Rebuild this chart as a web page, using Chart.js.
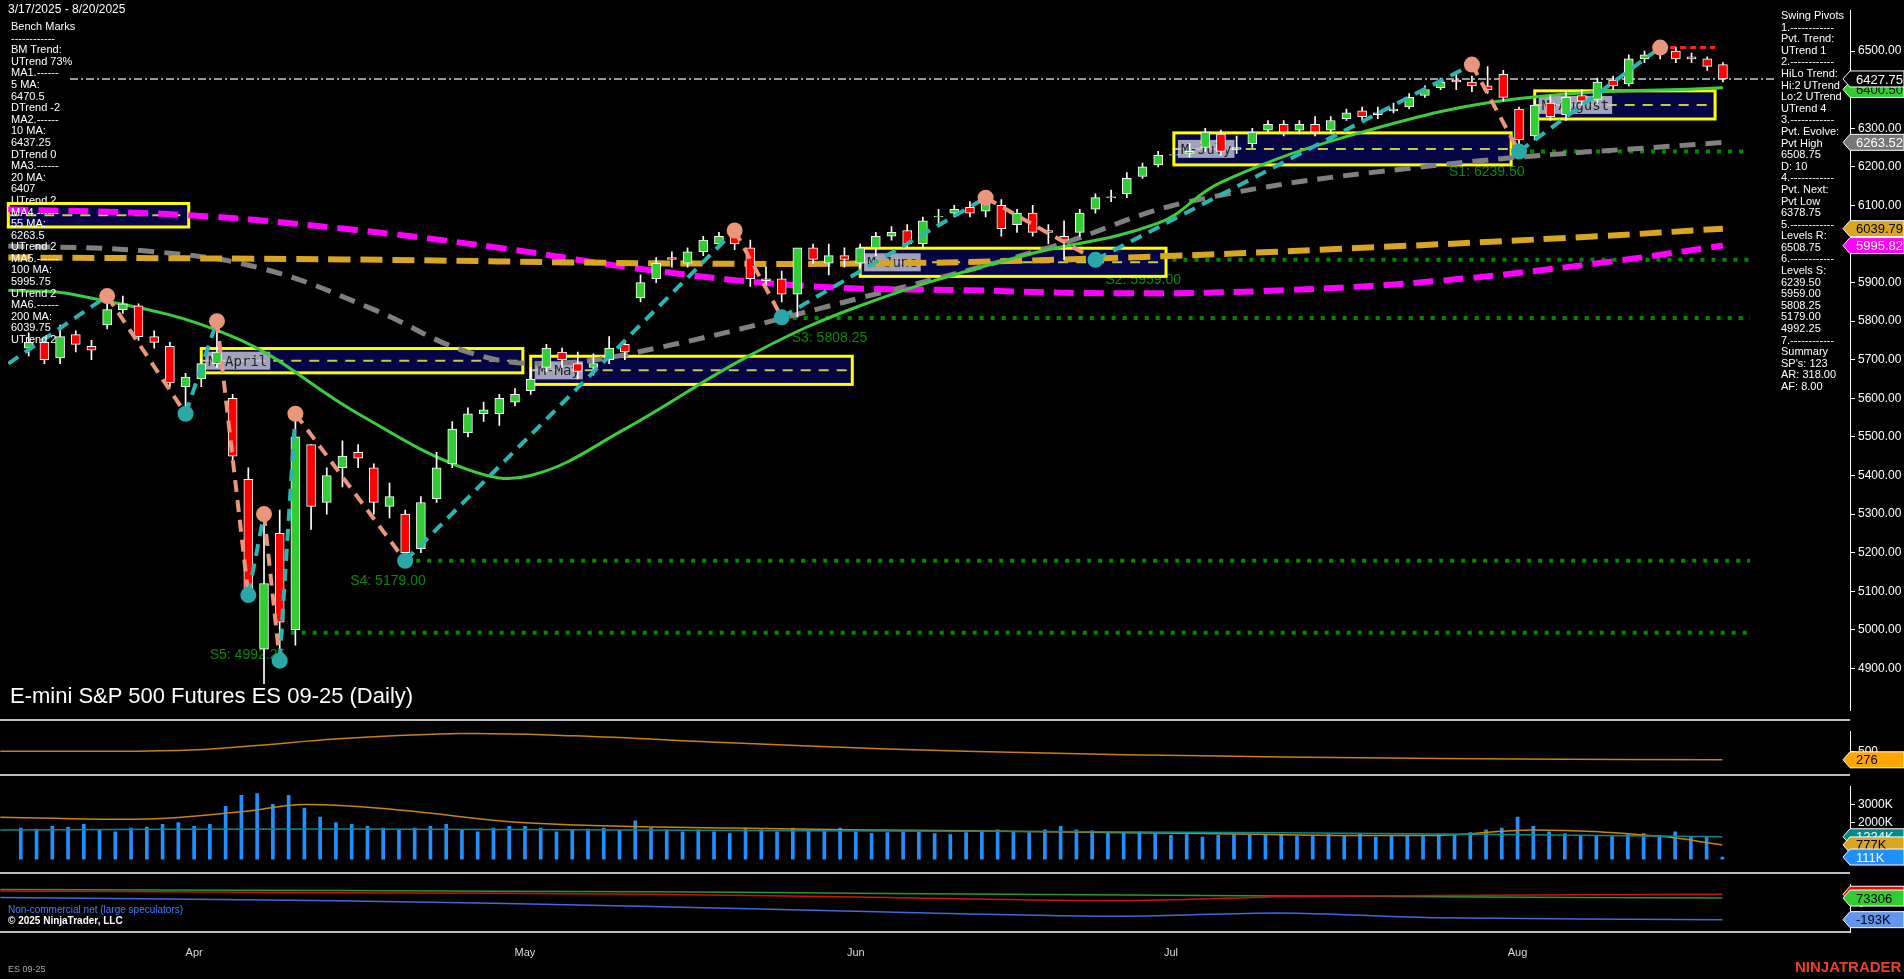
<!DOCTYPE html>
<html><head><meta charset="utf-8">
<script src="https://cdn.jsdelivr.net/npm/chart.js@4.4.1/dist/chart.umd.min.js"></script>
<style>
html,body{margin:0;padding:0;background:#000;width:1904px;height:979px;overflow:hidden;font-family:Arial,"Liberation Sans",sans-serif;}
canvas{position:absolute;left:0;}
.txt{position:absolute;color:#fff;font-size:11px;line-height:11.6px;white-space:pre;}
</style></head><body>
<canvas id="c1" style="top:0"></canvas>
<canvas id="c2" style="top:721px"></canvas>
<canvas id="c3" style="top:776px"></canvas>
<canvas id="c4" style="top:874px"></canvas>
<div class="txt" style="left:8px;top:4px;font-size:12px">3/17/2025 - 8/20/2025</div>
<div class="txt" id="lefttxt" style="left:11px;top:21px"></div>
<div class="txt" id="righttxt" style="left:1781px;top:10px"></div>
<div class="txt" style="left:10px;top:684px;font-size:22px;line-height:24px">E-mini S&amp;P 500 Futures ES 09-25 (Daily)</div>
<div class="txt" style="left:8px;top:904px;font-size:10px;color:#4a7cff">Non-commercial net (large speculators)</div>
<div class="txt" style="left:8px;top:915px;font-size:10px;font-weight:bold">© 2025 NinjaTrader, LLC</div>
<div class="txt" style="left:8px;top:964px;font-size:9px;color:#aaa">ES 09-25</div>
<div class="txt" style="left:1795px;top:958px;font-size:15px;font-weight:bold;color:#e8421e;line-height:18px">NINJATRADER</div>
<script>
// ---------- DATA ----------
const opens = [5730,5745,5705,5765,5735, 5790,5830,5840,5760,5735, 5630, 5650,5690,5600,5390,4950,5250, 5000,5480,5330,5420,5460,5420,5320,5300, 5210,5340,5430,5510,5560,5560,5590, 5620,5680,5720,5690,5680,5700,5740, 5860,5910,5965,5950,5980,6000,6020, 5990,5905,5910,5870,5990,5950,5970, 5950,5990,6020,6035,6000, 6070,6080,6095,6085,6100, 6050,6080,6035,6020, 6030,6090,6120,6130,6175,6205, 6230,6235,6250, 6285,6245,6260,6295,6310, 6295,6310,6295,6325,6345, 6335,6345,6355,6385,6405, 6425,6420,6410,6440, 6350, 6280,6365,6335,6385,6375, 6425,6415,6480,6495,6500, 6485,6480,6465];
const highs = [5770,5760,5790,5775,5750, 5850,5865,5845,5775,5745, 5665, 5705,5800,5610,5420,5300,5310, 5560,5480,5420,5490,5480,5430,5380,5310, 5345,5460,5540,5575,5590,5610,5625, 5680,5740,5730,5720,5715,5760,5750, 5920,5965,5980,5990,6020,6030,6035, 6010,5940,5930,5910,6000,6000,5990, 6000,6030,6045,6050,6070, 6090,6100,6110,6120,6115, 6090,6100,6050,6060, 6090,6130,6140,6185,6210,6240, 6250,6260,6300, 6295,6280,6300,6320,6320, 6320,6330,6330,6350,6355, 6355,6365,6390,6410,6430, 6440,6435,6460,6450, 6355, 6370,6385,6395,6400,6430, 6435,6490,6500,6505,6509, 6495,6485,6470];
const lows = [5710,5690,5690,5720,5700, 5780,5820,5750,5730,5630, 5560, 5630,5680,5440,5090,4860,4950, 4960,5260,5300,5370,5420,5300,5290,5179, 5200,5330,5420,5500,5540,5530,5580, 5610,5670,5680,5650,5660,5690,5700, 5850,5900,5940,5940,5970,5990,5985, 5890,5880,5850,5810,5950,5920,5940, 5940,5970,6010,5990,5990, 6050,6070,6070,6070,6020, 6030,6020,6000,5959, 6020,6080,6110,6120,6170,6200, 6220,6225,6240, 6230,6235,6250,6290,6280, 6285,6280,6290,6320,6320, 6325,6340,6350,6380,6400, 6400,6395,6390,6370, 6239.5, 6270,6320,6320,6360,6365, 6400,6410,6470,6480,6470, 6470,6450,6420];
const closes = [5745,5700,5760,5740,5725, 5830,5845,5760,5745,5640, 5655, 5690,5720,5450,5100,5120,5020, 5500,5320,5400,5450,5445,5330,5345,5200, 5330,5420,5520,5560,5570,5600,5610, 5650,5730,5700,5670,5690,5730,5720, 5900,5950,5960,5980,6010,6020,6000, 5910,5910,5870,5990,5960,5970,5960, 5990,6020,6030,6000,6060, 6070,6090,6080,6110,6040, 6080,6030,6030,6010, 6080,6120,6120,6170,6200,6230, 6230,6240,6290, 6240,6250,6290,6310,6290, 6310,6290,6320,6340,6330, 6340,6350,6380,6400,6420, 6420,6410,6400,6380, 6270, 6360,6330,6380,6370,6420, 6410,6480,6490,6495,6480, 6480,6460,6427.75];
const volumeK = [1700,1650,1800,1750,1900, 1600,1500,1700,1750,1900, 2000, 1800,1900,2900,3500,3600,3000, 3500,2800,2300,2000,1900,1800,1700,1600, 1700,1800,1900,1600,1500,1700,1800, 1800,1700,1500,1600,1650,1700,1600, 2100,1700,1600,1500,1600,1500,1400, 1700,1600,1500,1700,1600,1550,1700, 1500,1400,1450,1500,1500, 1400,1350,1450,1500,1600, 1500,1450,1600,1800, 1600,1550,1500,1450,1500,1400, 1300,1350,1200, 1300,1350,1300,1350,1300, 1250,1300,1350,1300,1400, 1200,1250,1300,1300,1350, 1300,1450,1600,1700, 2300, 1800,1500,1400,1300,1250, 1300,1350,1400,1300,1500, 1200,1250,111];
const monthIdx = [11,32,53,73,95];
const monthNames = ["Apr","May","Jun","Jul","Aug"];
const priceTicks = [4900,5000,5100,5200,5300,5400,5500,5600,5700,5800,5900,6000,6100,6200,6300,6400,6500];
// moving averages
const ma20X = [-1.3,3,13,21,28,32,38,46,53,63,72,76,85,95,108];
const ma20Y = [5880,5868,5760,5560,5415,5400,5520,5712,5840,5966,6054,6160,6290,6377,6405];
const ma55X = [-1.3,8,15,22,28,33,40,53,65,74,90,108];
const ma55Y = [5995,5980,5935,5830,5720,5690,5730,5860,5990,6110,6205,6263.52];
const ma100X = [-1.3,10,20,30,40,50,60,70,80,90,100,108];
const ma100Y = [6090,6075,6040,5990,5930,5890,5880,5872,5880,5905,5950,5995.82];
const ma200X = [-1.3,20,40,55,70,85,100,108];
const ma200Y = [5965,5960,5950,5950,5965,5990,6020,6039.79];
// swing pivots
const pivX = [-1.3,5,10,12,14,15,16,17,24,45,48,61,68,92,95,104];
const pivY = [5690,5865,5560,5800,5090,5300,4920,5560,5179,6035,5810,6120,5959,6465,6239.5,6509];
// support levels
const supLevel = [4992.25,5179.00,5808.25,5959.00,6239.50];
const supStart = [16,24,48,68,95];
const supName = ["S5","S4","S3","S2","S1"];
// monthly boxes
const boxName = ["M-March","M-April","M-May","M-June","M-July","M-August"];
const boxStart = [-1.3,11,32,53,73,96];
const boxEnd = [10.2,31.5,52.5,72.5,94.5,107.5];
const boxHigh = [6105,5729,5709,5989,6288,6397];
const boxLow = [6044,5666,5636,5916,6205,6324];
// lower panels
const atrX = [-1.3,10,15,20,28,35,45,55,65,75,85,95,108];
const atrY = [500,520,650,820,960,900,720,560,450,380,330,300,276];
const volAvgX = [-1.3,8,14,18,24,32,45,60,75,90,96,104,108];
const volAvgY = [2300,2200,2600,3000,2700,2000,1700,1550,1400,1300,1600,1250,777];
const volTealX = [-1.3,20,50,80,108];
const volTealY = [1600,1650,1550,1450,1224];
const cotX = [-1.3,20,40,55,70,80,90,108];
const cotGreen = [180,165,150,130,110,100,90,73.306];
const cotRed = [160,140,120,80,40,90,105,120];
const cotBlue = [80,40,-30,-100,-150,-110,-170,-193];
const leftLines = ["Bench Marks","------------","BM Trend:","UTrend 73%","MA1.------","5 MA:","6470.5","DTrend -2","MA2.------","10 MA:","6437.25","DTrend 0","MA3.------","20 MA:","6407","UTrend 2","MA4.------","55 MA:","6263.5","UTrend 2","MA5.------","100 MA:","5995.75","UTrend 2","MA6.------","200 MA:","6039.75","UTrend 2"];
const rightLines = ["Swing Pivots","1.------------","Pvt. Trend:","UTrend 1","2.------------","HiLo Trend:","Hi:2 UTrend","Lo:2 UTrend","UTrend 4","3.------------","Pvt. Evolve:","Pvt High","6508.75","D: 10","4.------------","Pvt. Next:","Pvt Low","6378.75","5.------------","Levels R:","6508.75","6.------------","Levels S:","6239.50","5959.00","5808.25","5179.00","4992.25","7.------------","Summary","SP's: 123","AR: 318.00","AF: 8.00"];
// ---------- END DATA ----------
document.getElementById('lefttxt').textContent = leftLines.join("\n");
document.getElementById('righttxt').textContent = rightLines.join("\n");

const XMIN=-1.32, XMAX=116.1, W=1904;
const pts=(xs,ys)=>xs.map((x,i)=>({x:x,y:ys[i]}));
const xScale={type:'linear',min:XMIN,max:XMAX,display:false,offset:false};
function yAxis(min,max,ticks,fmt){
  return {position:'right',min:min,max:max,
    afterBuildTicks:a=>{a.ticks=ticks.map(v=>({value:v}));},
    afterFit:s=>{s.width=54;},
    grid:{drawOnChartArea:false,color:'#fff',tickLength:5},
    border:{color:'#fff',width:1},
    ticks:{color:'#fff',font:{size:12,family:'Arial'},padding:3,callback:fmt}};
}
function tag(ctx,y,text,bg,fg,border){
  const x0=1843,h=16;
  ctx.save();
  ctx.beginPath();ctx.moveTo(x0,y);ctx.lineTo(x0+7,y-h/2);ctx.lineTo(W,y-h/2);ctx.lineTo(W,y+h/2);ctx.lineTo(x0+7,y+h/2);ctx.closePath();
  ctx.fillStyle=bg;ctx.fill();ctx.strokeStyle=border||'#fff';ctx.lineWidth=1;ctx.stroke();
  ctx.fillStyle=fg;ctx.font='13px Arial';ctx.textBaseline='middle';ctx.fillText(text,x0+13,y+1);
  ctx.restore();
}
function sep(chart,y){const c=chart.ctx;c.save();c.strokeStyle='#fff';c.lineWidth=1.5;c.beginPath();c.moveTo(0,y);c.lineTo(1850,y);c.stroke();c.restore();}
const common={responsive:false,animation:false,events:[],layout:{padding:0},plugins:{legend:{display:false},tooltip:{enabled:false}}};

// ---------- PRICE CHART ----------
const c1=document.getElementById('c1');c1.width=W;c1.height=721;
const candleColors=closes.map((c,i)=>c>=opens[i]?'#32cd32':'#ff0000');
const bgPlugin={id:'bg',beforeDraw(ch){const c=ch.ctx;c.save();c.fillStyle='#000';c.fillRect(0,0,ch.width,ch.height);c.restore();}};
const boxPlugin={id:'boxes',beforeDatasetsDraw(ch){
  const c=ch.ctx,x=ch.scales.x,y=ch.scales.y;c.save();
  supLevel.forEach((v,i)=>{const yy=y.getPixelForValue(v),xs=x.getPixelForValue(supStart[i]);
    c.strokeStyle='#008a00';c.lineWidth=4;c.setLineDash([4,7]);c.beginPath();c.moveTo(xs,yy);c.lineTo(1750,yy);c.stroke();
    c.setLineDash([]);c.fillStyle='#0a8a0a';c.font='14px Arial';c.fillText(supName[i]+': '+v.toFixed(2),xs-(i==0?70:i==4?70:i==1?55:-10),yy+(i==0?26:i==4?24:24));});
  boxName.forEach((n,i)=>{const x0=x.getPixelForValue(boxStart[i]),x1=x.getPixelForValue(boxEnd[i]),y0=y.getPixelForValue(boxHigh[i]),y1=y.getPixelForValue(boxLow[i]);
    c.fillStyle='rgba(5,5,75,0.92)';c.fillRect(x0,y0,x1-x0,y1-y0);
    c.strokeStyle='#ffff00';c.lineWidth=3;c.setLineDash([]);c.strokeRect(x0,y0,x1-x0,y1-y0);
    const ym=(y0+y1)/2;c.strokeStyle='#c8c850';c.lineWidth=2;c.setLineDash([10,8]);c.beginPath();c.moveTo(x0,ym);c.lineTo(x1,ym);c.stroke();c.setLineDash([]);
    if(i>0){c.font='14px "DejaVu Sans Mono",monospace';const tw=c.measureText(n).width;c.fillStyle='rgba(190,190,210,0.85)';c.fillRect(x0+4,ym-9,tw+6,18);c.fillStyle='#222';c.fillText(n,x0+7,ym+5);}
  });
  const yl=y.getPixelForValue(closes[closes.length-1]);c.strokeStyle='#9a9a9a';c.lineWidth=2;c.setLineDash([8,3,2,3]);c.beginPath();c.moveTo(70,yl);c.lineTo(1775,yl);c.stroke();
  const yr=y.getPixelForValue(pivY[pivY.length-1]);c.strokeStyle='#ff2020';c.setLineDash([6,4]);c.lineWidth=3;c.beginPath();c.moveTo(x.getPixelForValue(104),yr);c.lineTo(x.getPixelForValue(107.5),yr);c.stroke();
  c.restore();},
  afterDraw(ch){const c=ch.ctx,y=ch.scales.y;
    tag(c,y.getPixelForValue(6400.5),'6400.50','#32cd32','#000');
    tag(c,y.getPixelForValue(closes[closes.length-1]),'6427.75','#000','#fff');
    tag(c,y.getPixelForValue(ma55Y[ma55Y.length-1]),'6263.52','#777','#fff');
    tag(c,y.getPixelForValue(ma200Y[ma200Y.length-1]),'6039.79','#daa520','#000');
    tag(c,y.getPixelForValue(ma100Y[ma100Y.length-1]),'5995.82','#ff00ff','#fff');
    sep(ch,720);}
};
new Chart(c1,{type:'bar',plugins:[bgPlugin,boxPlugin],data:{datasets:[
  {type:'line',data:pts(ma200X,ma200Y),borderColor:'#daa520',borderWidth:6,borderDash:[22,10],pointRadius:0,tension:0.4,order:5},
  {type:'line',data:pts(ma100X,ma100Y),borderColor:'#ff00ff',borderWidth:6,borderDash:[20,10],pointRadius:0,tension:0.4,order:5},
  {type:'line',data:pts(ma55X,ma55Y),borderColor:'#808080',borderWidth:5,borderDash:[16,10],pointRadius:0,tension:0.4,order:5},
  {type:'line',data:pts(ma20X,ma20Y),borderColor:'#3ccc3c',borderWidth:3,pointRadius:0,tension:0.4,order:4},
  {type:'bar',data:highs.map((h,i)=>({x:i,y:[lows[i],h]})),backgroundColor:'#fff',barThickness:1,grouped:false,order:3},
  {type:'bar',data:opens.map((o,i)=>({x:i,y:[o,closes[i]===o?o+2:closes[i]]})),backgroundColor:candleColors,borderColor:'#fff',borderWidth:1,borderSkipped:false,barThickness:9,grouped:false,order:2},
  {type:'line',data:pts(pivX,pivY),borderWidth:4,borderDash:[12,8],pointRadius:pivY.map((v,i)=>i==0?0:8),
    pointBackgroundColor:pivY.map((v,i)=>i>0&&v>pivY[i-1]?'#e9967a':'#2aa8a8'),pointBorderWidth:0,
    segment:{borderColor:s=>s.p1.parsed.y>s.p0.parsed.y?'#2ab5b0':'#e9967a'},order:1}
]},options:{...common,scales:{x:xScale,y:yAxis(4790,6606,priceTicks,v=>v.toFixed(2))}}});

// ---------- ATR ----------
const c2=document.getElementById('c2');c2.width=W;c2.height=55;
new Chart(c2,{type:'line',plugins:[bgPlugin,{id:'t2',afterDraw(ch){tag(ch.ctx,ch.scales.y.getPixelForValue(276),'276','#ffa500','#000');sep(ch,54);}}],
 data:{datasets:[{data:pts(atrX,atrY),borderColor:'#c8820a',borderWidth:1.5,pointRadius:0,tension:0.4}]},
 options:{...common,scales:{x:xScale,y:yAxis(120,1020,[500],v=>String(v))}}});

// ---------- VOLUME ----------
const c3=document.getElementById('c3');c3.width=W;c3.height=98;
new Chart(c3,{type:'bar',plugins:[bgPlugin,{id:'t3',afterDraw(ch){const y=ch.scales.y,c=ch.ctx;
  tag(c,y.getPixelForValue(1224),'1224K','#008b8b','#fff');tag(c,y.getPixelForValue(777),'777K','#daa520','#000');tag(c,y.getPixelForValue(111),'111K','#1e90ff','#fff');sep(ch,97);}}],
 data:{datasets:[
  {type:'line',data:pts(volTealX,volTealY),borderColor:'#0a8a8a',borderWidth:1.5,pointRadius:0,tension:0.4,order:1},
  {type:'line',data:pts(volAvgX,volAvgY),borderColor:'#c8860b',borderWidth:1.5,pointRadius:0,tension:0.4,order:1},
  {type:'bar',data:volumeK.map((v,i)=>({x:i,y:v})),backgroundColor:'#1e90ff',barThickness:3,order:2}]},
 options:{...common,scales:{x:xScale,y:yAxis(-260,4000,[2000,3000],v=>v+'K')}}});

// ---------- COT ----------
const c4=document.getElementById('c4');c4.width=W;c4.height=105;
new Chart(c4,{type:'line',plugins:[bgPlugin,{id:'t4',afterDraw(ch){const y=ch.scales.y,x=ch.scales.x,c=ch.ctx;
  tag(c,y.getPixelForValue(120),'','#ff0000','#fff');tag(c,y.getPixelForValue(73.306),'73306','#32cd32','#000');tag(c,y.getPixelForValue(-193),'-193K','#6495ed','#000');
  c.save();c.strokeStyle='#fff';c.lineWidth=1.5;c.beginPath();c.moveTo(0,ch.chartArea.bottom);c.lineTo(1850,ch.chartArea.bottom);c.stroke();
  c.fillStyle='#ddd';c.font='11px Arial';c.textAlign='center';monthIdx.forEach((m,i)=>c.fillText(monthNames[i],x.getPixelForValue(m),ch.chartArea.bottom+24));c.restore();}}],
 data:{datasets:[
  {data:pts(cotX,cotRed),borderColor:'#d01010',borderWidth:1.5,pointRadius:0,tension:0.3},
  {data:pts(cotX,cotGreen),borderColor:'#2a9a2a',borderWidth:1.5,pointRadius:0,tension:0.3},
  {data:pts(cotX,cotBlue),borderColor:'#4169e1',borderWidth:1.5,pointRadius:0,tension:0.3}]},
 options:{...common,layout:{padding:{bottom:47}},scales:{x:xScale,y:yAxis(-345,244,[0],v=>String(v))}}});
</script>
</body></html>
